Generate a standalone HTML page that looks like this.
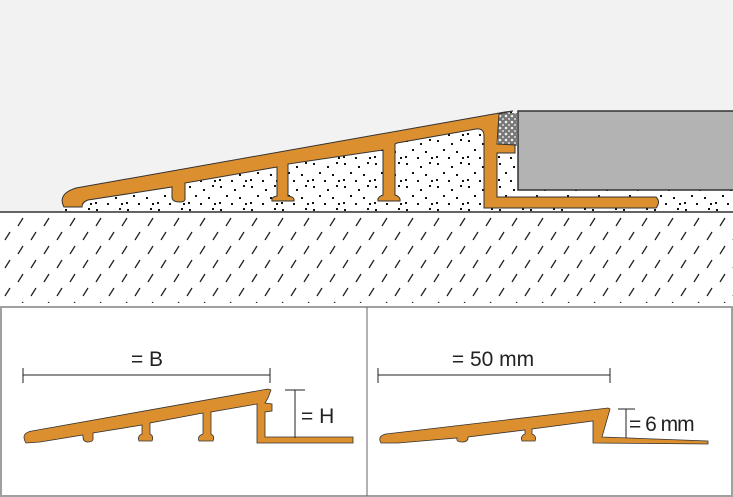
<!DOCTYPE html><html><head><style>body{margin:0;background:#fff}svg{display:block}text{font-family:"Liberation Sans",sans-serif;fill:#222}</style></head><body>
<svg width="733" height="497" viewBox="0 0 733 497" xmlns="http://www.w3.org/2000/svg">
<defs>
<pattern id="dots" width="31" height="23" patternUnits="userSpaceOnUse">
<rect x="3" y="2" width="2" height="2" fill="#111"/><rect x="17" y="5" width="2" height="2" fill="#111"/><rect x="26" y="1" width="2" height="2" fill="#111"/><rect x="9" y="11" width="2" height="2" fill="#111"/><rect x="22" y="13" width="2" height="2" fill="#111"/><rect x="2" y="18" width="2" height="2" fill="#111"/><rect x="14" y="19" width="2" height="2" fill="#111"/><rect x="28" y="19" width="2" height="2" fill="#111"/>
</pattern>
<pattern id="hatch" width="26" height="28" patternUnits="userSpaceOnUse" y="215">
<line x1="18" y1="11" x2="23" y2="3" stroke="#222" stroke-width="1.3"/>
<line x1="5" y1="25" x2="10" y2="17" stroke="#222" stroke-width="1.3"/>
</pattern>
<pattern id="grout" width="6" height="6" patternUnits="userSpaceOnUse">
<rect width="6" height="6" fill="#777"/><circle cx="2" cy="2" r="1.3" fill="#eee"/><circle cx="5" cy="5" r="1" fill="#ddd"/>
</pattern>
</defs>
<rect x="0" y="0" width="733" height="212" fill="#f2f2f2"/>
<rect x="0" y="212" width="733" height="92" fill="#fff"/>
<rect x="0" y="215" width="733" height="88" fill="url(#hatch)"/>
<polygon points="62,211 72,195 505,112 518,112 518,190 733,190 733,211" fill="#fff"/>
<polygon points="62,211 72,195 505,112 518,112 518,190 733,190 733,211" fill="url(#dots)"/>
<rect x="498" y="113" width="19" height="33" fill="url(#grout)"/>
<rect x="518" y="111" width="216" height="79" fill="#b3b3b3" stroke="#333" stroke-width="1.5"/>
<line x1="0" y1="212" x2="733" y2="212" stroke="#333" stroke-width="1.5"/>
<path d="M64,207 Q57,194 76,188 L505,112 L513,111 L499,114 L497,144 L515,145 L515,153 L497,153 L497,197 L656,197 Q661,202 656,208 L484,208 L484,136 Q484,128 476,129 L397,143 L395,144 L395,195 Q401,197 400,201 L378,201 Q377,197 383,195 L383,150 L288,164 L288,196 Q295,197 294,201 L272,201 Q271,197 277,196 L277,167 L185,183 L185,197 Q186,202 180,202 Q172,202 172,197 L172,187 L88,200 Q82,202 82,207 Z" fill="#dc8f2e" stroke="#333" stroke-width="1"/>
<rect x="1" y="307" width="731" height="189" fill="#fff" stroke="#a0a0a0" stroke-width="2"/>
<line x1="367" y1="307" x2="367" y2="496" stroke="#666" stroke-width="1"/>
<line x1="23" y1="375" x2="270" y2="375" stroke="#222"/><line x1="23" y1="368" x2="23" y2="383" stroke="#222"/><line x1="270" y1="368" x2="270" y2="383" stroke="#222"/>
<text x="147" y="366" font-size="21" text-anchor="middle">= B</text>
<path d="M26,443 Q20,433 32,431 L268,389 L271,390 L268,398 L265,403 L272,404 L272,411 L265,412 L265,437 L353,437 L353,443 L257,443 L257,404 L211,412 L211,434 Q215,436 213,441 L199,441 Q197,436 203,434 L203,413 L150,423 L150,434 Q154,436 152,441 L139,441 Q137,436 142,434 L142,425 L93,433 L93,437 Q94,442 88,442 Q83,442 83,437 L83,435 L40,442 Z" fill="#dc8f2e" stroke="#333" stroke-width="0.8"/>
<line x1="295" y1="390" x2="295" y2="438" stroke="#222"/><line x1="285" y1="390" x2="305" y2="390" stroke="#222"/>
<text x="301" y="423" font-size="21">= H</text>
<line x1="378" y1="375" x2="610" y2="375" stroke="#222"/><line x1="378" y1="368" x2="378" y2="383" stroke="#222"/><line x1="610" y1="368" x2="610" y2="383" stroke="#222"/>
<text x="493" y="366" font-size="21" text-anchor="middle">= 50 mm</text>
<path d="M381,443 Q377,436 386,434 L608,408 L610,409 L602,437 L708,441 L708,444 L593,443 L593,421 L532,429 L532,434 Q537,436 535,441 L522,441 Q520,436 525,434 L525,430 L468,437 L468,438 Q468,442 462,442 Q456,442 457,438 L398,443 Z" fill="#dc8f2e" stroke="#333" stroke-width="0.8"/>
<line x1="626" y1="409" x2="626" y2="438" stroke="#222"/><line x1="618" y1="409" x2="635" y2="409" stroke="#222"/>
<text x="629" y="431" font-size="21" letter-spacing="-1">= 6 mm</text>
</svg>
</body></html>
